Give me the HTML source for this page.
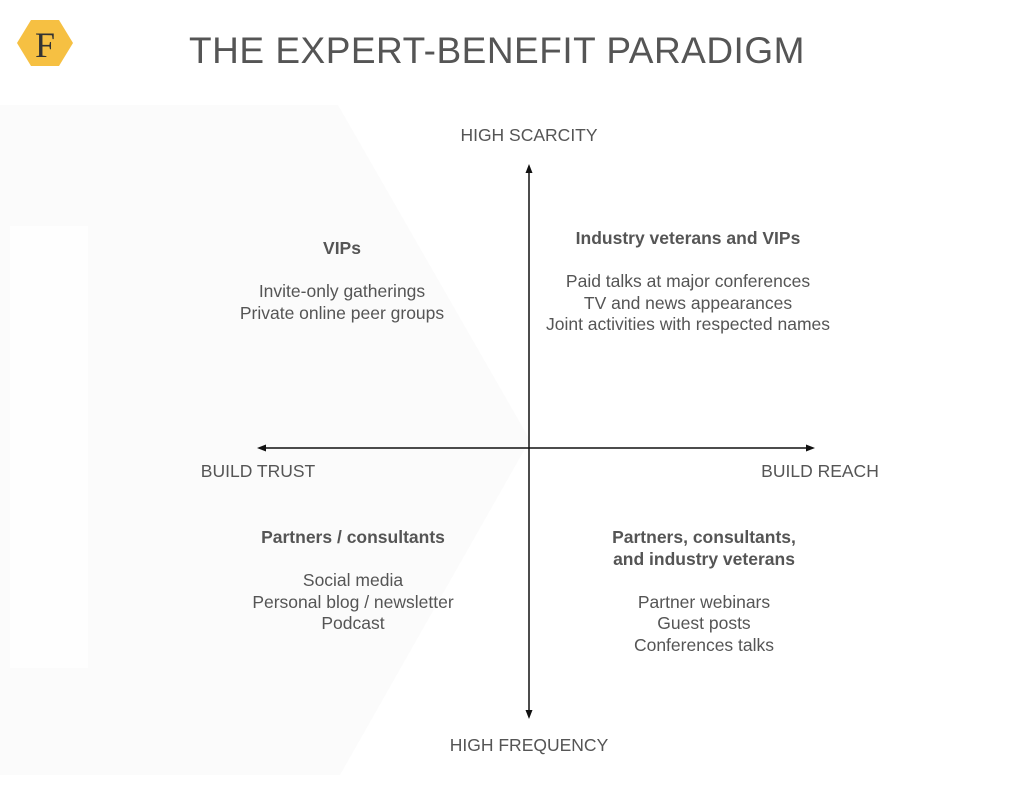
<!DOCTYPE html>
<html><head><style>
body{margin:0;width:1024px;height:788px;background:#fff;position:relative;overflow:hidden;font-family:"Liberation Sans",sans-serif;color:#555}
.t{position:absolute;text-align:center;font-size:17.5px;line-height:21.5px;white-space:nowrap;transform:translateX(-50%)}
b{color:#555}
</style></head><body>
<svg width="1024" height="788" style="position:absolute;left:0;top:0">
<polygon points="0,105 338,105 530,440 340,775 0,775" fill="#fbfbfb"/>
<rect x="10" y="226" width="78" height="442" fill="#fff" opacity="0.8"/>
<polygon points="17,43 31,20 59,20 73,43 59,66 31,66" fill="#f6c042"/>
<text x="45" y="57" font-family="Liberation Serif" font-size="36" text-anchor="middle" fill="#333">F</text>
<line x1="529" y1="172" x2="529" y2="712" stroke="#111" stroke-width="1.5"/>
<polygon points="529,164 525.5,173 532.5,173" fill="#111"/>
<polygon points="529,719 525.5,710 532.5,710" fill="#111"/>
<line x1="264" y1="448" x2="808" y2="448" stroke="#111" stroke-width="1.5"/>
<polygon points="257,448 266,444.5 266,451.5" fill="#111"/>
<polygon points="815,448 806,444.5 806,451.5" fill="#111"/>
</svg>
<div class="t" style="left:497px;top:29px;font-size:37px;line-height:44px;letter-spacing:0.5px;color:#555">THE EXPERT-BENEFIT PARADIGM</div>
<div class="t" style="left:529px;top:125px">HIGH SCARCITY</div>
<div class="t" style="left:529px;top:735px">HIGH FREQUENCY</div>
<div class="t" style="left:258px;top:461px">BUILD TRUST</div>
<div class="t" style="left:820px;top:461px">BUILD REACH</div>
<div class="t" style="left:342px;top:238px"><b>VIPs</b><br><br>Invite-only gatherings<br>Private online peer groups</div>
<div class="t" style="left:688px;top:228px"><b>Industry veterans and VIPs</b><br><br>Paid talks at major conferences<br>TV and news appearances<br>Joint activities with respected names</div>
<div class="t" style="left:353px;top:527px"><b>Partners / consultants</b><br><br>Social media<br>Personal blog / newsletter<br>Podcast</div>
<div class="t" style="left:704px;top:527px"><b>Partners, consultants,<br>and industry veterans</b><br><br>Partner webinars<br>Guest posts<br>Conferences talks</div>
</body></html>
